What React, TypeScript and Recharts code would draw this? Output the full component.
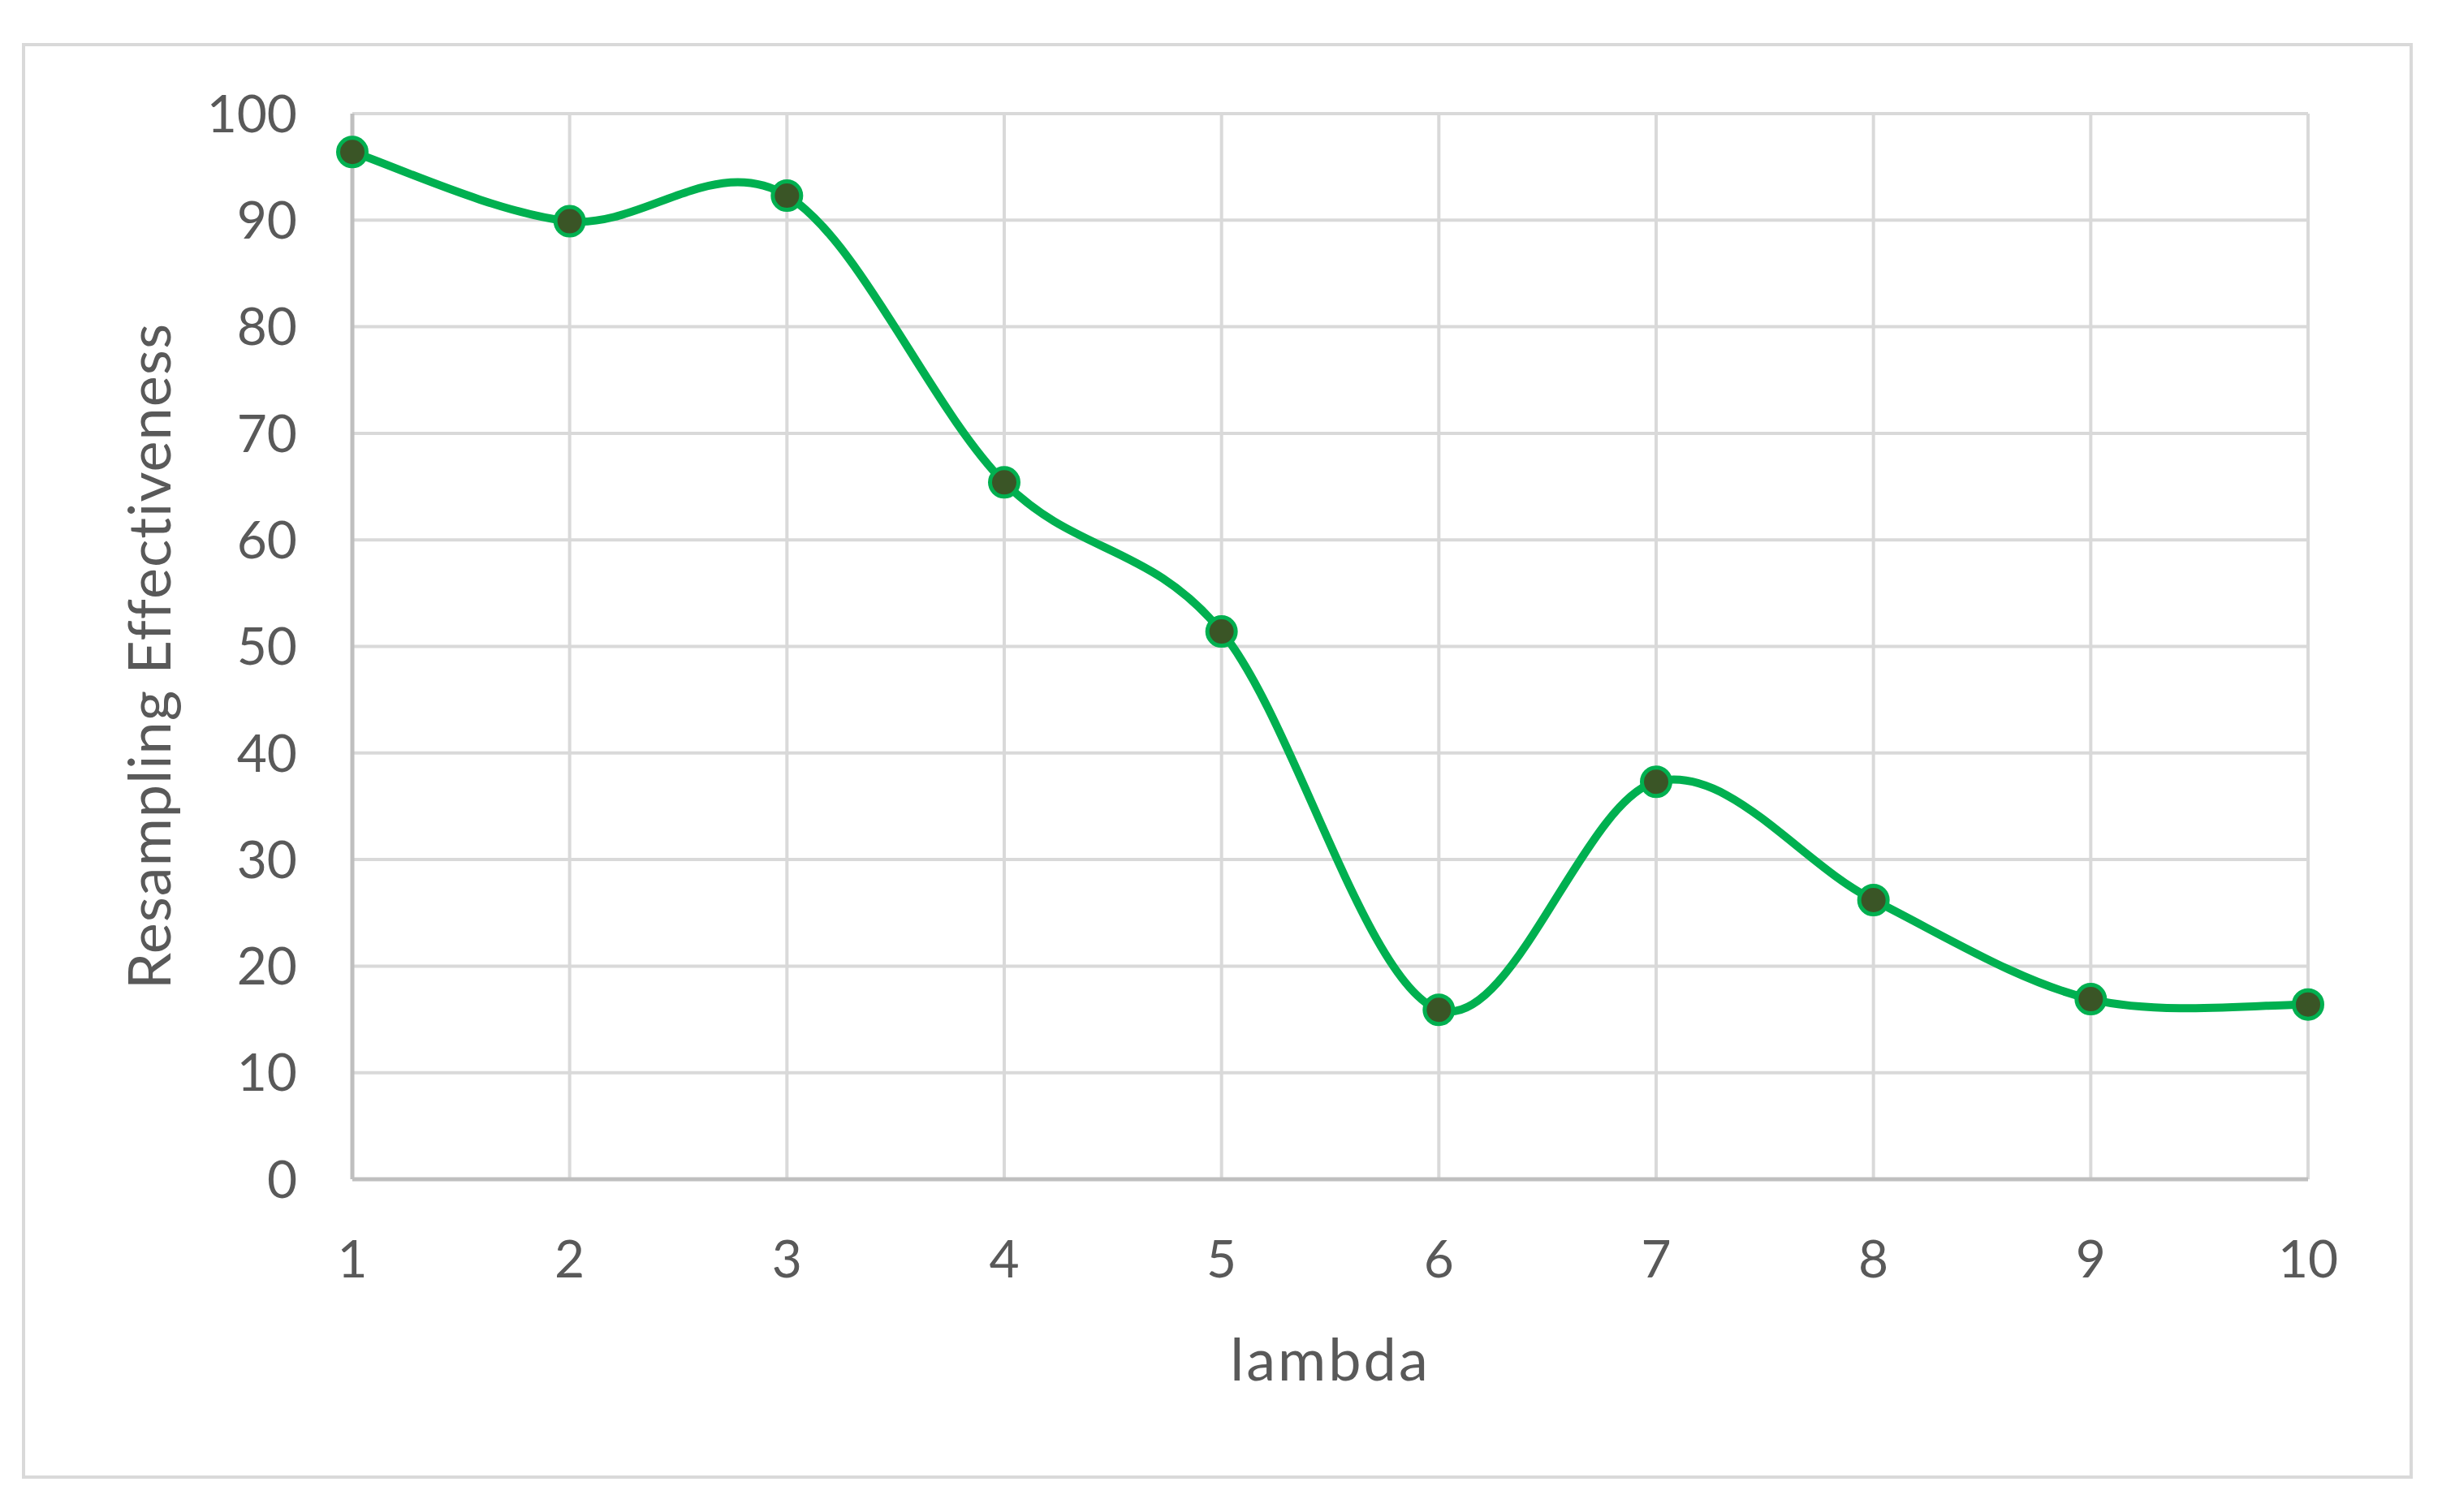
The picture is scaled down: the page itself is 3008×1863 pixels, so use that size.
import React from 'react';
import { LineChart, Line, XAxis, YAxis, CartesianGrid, Label } from 'recharts';

// values
const lambdas = ['1', '2', '3', '4', '5', '6', '7', '8', '9', '10'];
const effectiveness = [96.4, 89.9, 92.3, 65.4, 51.4, 15.9, 37.3, 26.2, 16.9, 16.4];
const yTicks = [0, 10, 20, 30, 40, 50, 60, 70, 80, 90, 100];

const chartData = lambdas.map((lambda, i) => ({ lambda, value: effectiveness[i] }));

const FONT = 'Lato, "Open Sans", sans-serif';
const TEXT = '#595959';

// Excel-like smoothed line (Catmull-Rom through the points)
const smoothCurve = (context: any) => {
  let pts: [number, number][] = [];
  return {
    areaStart() {},
    areaEnd() {},
    lineStart() {
      pts = [];
    },
    point(x: number, y: number) {
      pts.push([+x, +y]);
    },
    lineEnd() {
      const n = pts.length;
      if (!n) return;
      context.moveTo(pts[0][0], pts[0][1]);
      for (let i = 0; i < n - 1; i++) {
        const p0 = pts[Math.max(i - 1, 0)];
        const p1 = pts[i];
        const p2 = pts[i + 1];
        const p3 = pts[Math.min(i + 2, n - 1)];
        context.bezierCurveTo(
          p1[0] + (p2[0] - p0[0]) / 6,
          p1[1] + (p2[1] - p0[1]) / 6,
          p2[0] - (p3[0] - p1[0]) / 6,
          p2[1] - (p3[1] - p1[1]) / 6,
          p2[0],
          p2[1]
        );
      }
    },
  };
};

export default function App() {
  return (
    <div style={{ position: 'absolute', left: 0, top: 0, width: 3008, height: 1863, background: '#fff' }}>
      {/* chart frame */}
      <div
        style={{
          position: 'absolute',
          left: 27,
          top: 53,
          width: 2937,
          height: 1761,
          border: '4px solid #D9D9D9',
        }}
      />
      <div style={{ position: 'absolute', left: 0, top: 0 }}>
        <LineChart width={3008} height={1863} data={chartData} margin={{ top: 140, right: 165, left: 0, bottom: 162 }}>
          <CartesianGrid stroke="#D9D9D9" strokeWidth={4} />
          <XAxis
            dataKey="lambda"
            interval={0}
            height={248}
            tickSize={0}
            tickMargin={76}
            tick={{ fill: TEXT, fontSize: 64, fontFamily: FONT }}
            axisLine={{ stroke: '#BFBFBF', strokeWidth: 5 }}
          >
            <Label
              value="lambda"
              position="insideBottom"
              offset={0}
              style={{ fill: TEXT, fontSize: 72, fontFamily: FONT, letterSpacing: 3 }}
            />
          </XAxis>
          <YAxis
            width={434}
            domain={[0, 100]}
            ticks={yTicks}
            interval={0}
            tickSize={0}
            tickMargin={68}
            tick={{ fill: TEXT, fontSize: 64, fontFamily: FONT }}
            axisLine={{ stroke: '#BFBFBF', strokeWidth: 5 }}
          >
            <Label
              content={(props: any) => {
                const vb = props.viewBox || {};
                const cx = (vb.x || 0) + 210;
                const cy = (vb.y || 0) + (vb.height || 0) / 2 + 12;
                return (
                  <text
                    x={cx}
                    y={cy}
                    transform={`rotate(-90, ${cx}, ${cy})`}
                    textAnchor="middle"
                    fill={TEXT}
                    style={{ fontSize: 72, fontFamily: FONT, letterSpacing: 1 }}
                  >
                    Resampling Effectiveness
                  </text>
                );
              }}
            />
          </YAxis>
          <Line
            type={smoothCurve as any}
            dataKey="value"
            stroke="#00B050"
            strokeWidth={10}
            dot={{ r: 17.5, fill: '#3A5526', stroke: '#00B050', strokeWidth: 5 }}
            activeDot={false}
            isAnimationActive={false}
          />
        </LineChart>
      </div>
    </div>
  );
}
